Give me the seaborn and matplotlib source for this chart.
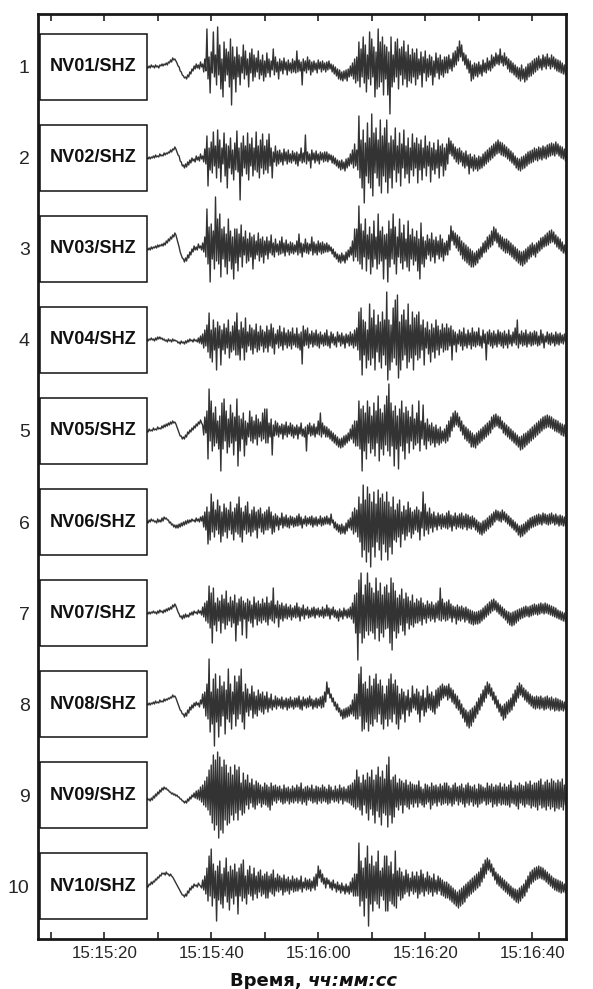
import numpy as np
import pandas as pd
import matplotlib
matplotlib.use("Agg")
import matplotlib.pyplot as plt
import matplotlib.transforms as mtransforms
from matplotlib.patches import Rectangle
import seaborn as sns

# ---------------- data ----------------
stations = ["NV01/SHZ", "NV02/SHZ", "NV03/SHZ", "NV04/SHZ", "NV05/SHZ",
            "NV06/SHZ", "NV07/SHZ", "NV08/SHZ", "NV09/SHZ", "NV10/SHZ"]
trace_rows = [1, 2, 3, 4, 5, 6, 7, 8, 9, 10]
major_seconds = [20, 40, 60, 80, 100]          # seconds after 15:15:00
major_labels = ["15:15:20", "15:15:40", "15:16:00", "15:16:20", "15:16:40"]
minor_seconds = [10, 30, 50, 70, 90]
t_start = 28.0      # first sample, seconds after 15:15:00
dt = 0.2            # sample step, s

# amplitudes (pixels, positive = up)
nv01 = [0,-1, 1,-1, 2,0, 1,-1, 2,0, 1,-1, 2,1, 3,1, 3,2, 4,2, 5,4, 7,5, 9,7, 8,6,
        4,1, 0,-4, -5,-8, -9,-11, -10,-12, -8,-10, -5,-7, -2,-4, 1,-2, 3,-1, 2,-2, 5,0, 3,-5, 8,-4,
        38,-12, 10,-26, 15,-6, 35,-10, 12,-18, 40,-8, 22,-22, 8,-30, 25,-14, 18,-8, 15,-20, 28,-38, 20,-12, 10,-25,
        20,-10, 12,-18, 10,-6, 22,-12, 16,-8, 8,-20, 14,-6, 18,-14, 12,-10, 9,-5, 16,-12, 7,-8, 12,-14, 6,-10,
        14,-6, 8,-10, 6,-3, 18,-8, 10,-5, 5,-12, 8,-4, 6,-7, 9,-3, 5,-8, 7,-4, 4,-6, 8,-5, 6,-6,
        16,-5, 7,-4, 5,-18, 8,-4, 6,-6, 10,-3, 7,-8, 5,-5, 6,-3, 4,-6, 7,-2, 5,-5, 6,-3, 4,-5,
        5,-3, 6,-2, 3,-5, 2,-7, 0,-9, -2,-12, -3,-13, -5,-14, -4,-12, -3,-14, -2,-10, 1,-9, 4,-12, 8,-16,
        10,-14, 25,-20, 18,-10, 30,-16, 22,-25, 12,-12, 35,-18, 28,-10, 20,-30, 15,-22, 38,-20, 25,-15, 30,-28, 22,-12,
        20,-28, 15,-47, 30,-20, 12,-15, 25,-10, 28,-22, 18,-8, 20,-18, 26,-12, 15,-20, 22,-14, 12,-16, 18,-10, 14,-18,
        18,-12, 8,-8, 15,-20, 10,-6, 16,-14, 8,-10, 12,-8, 10,-18, 6,-10, 14,-6, 9,-12, 12,-8, 7,-10, 10,-6,
        10,-6, 12,-2, 8,-4, 14,0, 16,2, 20,6, 26,10, 22,6, 14,2, 12,-2, 8,-6, 6,-14, 2,-12, 4,-9,
        3,-10, 5,-7, 2,-9, 7,-5, 4,-6, 9,-3, 6,-4, 12,-1, 10,1, 14,3, 12,2, 18,4, 11,1, 14,2,
        10,-2, 8,-5, 6,-6, 4,-8, 2,-10, 0,-12, -1,-14, 2,-12, -2,-15, 0,-13, 3,-10, 4,-9, 6,-7, 8,-5,
        9,-3, 11,-1, 8,-3, 12,0, 10,-2, 13,1, 9,-2, 12,0, 10,-2, 8,-4, 7,-5, 6,-6, 4,-7, 2,-8]
nv02 = [0,-1, 1,-1, 1,0, 2,0, 3,1, 2,1, 4,2, 3,2, 5,3, 5,4, 6,5, 8,6, 9,8, 11,9,
        6,3, 2,-3, -4,-8, -7,-10, -6,-9, -4,-7, -2,-5, 0,-3, -1,-4, 2,-2, 1,-3, 4,-1, 2,-4, 9,-6,
        22,-28, 10,-12, 16,-15, 26,-8, 12,-20, 28,-10, 18,-24, 10,-6, 25,-18, 14,-30, 12,-10, 20,-16, 8,-22, 15,-12,
        27,-14, 10,-42, 15,-18, 22,-10, 12,-16, 25,-22, 14,-8, 20,-18, 10,-12, 26,-14, 12,-20, 18,-10, 24,-16, 12,-12,
        18,-15, 24,-8, 10,-20, 6,-4, 12,-8, 7,-6, 8,-4, 5,-7, 9,-3, 6,-6, 8,-4, 4,-5, 7,-3, 5,-6,
        6,-8, 4,-3, 10,-5, 5,-4, 23,-6, 6,-3, 4,-10, 8,-2, 5,-5, 7,-3, 4,-6, 6,-2, 5,-4, 6,-3,
        6,-4, 4,-2, 3,-5, 2,-6, 0,-8, -2,-10, -3,-12, -2,-11, -4,-13, -1,-10, 0,-8, 4,-6, 8,-10, 14,-8,
        8,-12, 42,-20, 18,-30, 28,-45, 15,-18, 35,-25, 20,-30, 44,-38, 25,-15, 30,-20, 18,-28, 38,-35, 22,-18, 30,-24,
        38,-35, 15,-20, 22,-30, 18,-12, 30,-24, 12,-15, 25,-28, 14,-10, 28,-20, 12,-16, 20,-25, 10,-12, 24,-18, 15,-10,
        20,-25, 14,-12, 18,-22, 10,-10, 22,-18, 12,-8, 16,-24, 10,-12, 15,-16, 8,-10, 18,-20, 12,-8, 14,-18, 10,-12,
        14,-6, 20,4, 17,2, 14,-1, 11,-4, 9,-6, 10,-4, 7,-8, 5,-10, 7,-8, 3,-16, 4,-10, 1,-13, 3,-11,
        0,-13, 2,-11, 1,-10, 4,-8, 6,-6, 8,-4, 10,-2, 12,0, 14,2, 16,4, 18,5, 16,3, 15,2, 13,1,
        11,-1, 9,-3, 7,-5, 5,-7, 2,-10, 0,-12, -1,-13, 1,-11, 2,-10, 4,-8, 6,-6, 7,-5, 8,-4, 10,-2,
        9,-3, 11,-1, 10,-2, 12,0, 11,-1, 13,1, 14,2, 15,3, 14,2, 16,4, 14,2, 12,0, 11,-1, 9,-3]
nv03 = [0,-1, 1,-1, 2,0, 2,1, 3,1, 4,2, 4,3, 5,3, 6,4, 8,6, 10,8, 12,10, 14,12, 16,14,
        10,6, 2,-3, -6,-9, -10,-13, -9,-12, -6,-9, -3,-6, 0,-3, 3,-1, 2,-1, 5,1, 3,-1, 6,-3, 12,-8,
        40,-15, 22,-33, 25,-10, 18,-20, 52,-12, 30,-15, 35,-28, 20,-10, 22,-18, 15,-25, 30,-12, 18,-20, 12,-30, 20,-14,
        20,-22, 15,-8, 24,-18, 12,-6, 18,-14, 10,-12, 16,-8, 12,-20, 14,-10, 8,-6, 16,-12, 10,-8, 12,-14, 8,-6,
        12,-10, 8,-4, 14,-6, 6,-8, 10,-3, 5,-6, 8,-5, 12,-4, 6,-7, 9,-3, 5,-6, 7,-4, 6,-5, 4,-3,
        8,-6, 15,-4, 6,-8, 5,-3, 10,-4, 6,-5, 5,-2, 12,-6, 7,-4, 5,-6, 8,-3, 6,-5, 7,-4, 5,-3,
        6,-3, 4,-2, 2,-5, 0,-8, -3,-10, -5,-13, -6,-14, -4,-12, -6,-14, -3,-11, -1,-8, 2,-6, 8,-12, 20,-8,
        20,-12, 43,-15, 25,-20, 18,-8, 30,-22, 14,-10, 22,-25, 15,-18, 28,-10, 12,-20, 35,-15, 18,-12, 22,-30, 14,-10,
        15,-33, 28,-18, 20,-10, 35,-15, 22,-25, 12,-8, 30,-14, 16,-20, 24,-12, 10,-18, 28,-22, 14,-10, 20,-16, 12,-12,
        18,-22, 10,-30, 26,-15, 12,-18, 8,-10, 14,-6, 10,-12, 16,-8, 9,-14, 12,-6, 8,-10, 14,-8, 10,-12, 6,-6,
        8,-6, 14,-1, 23,8, 18,4, 16,1, 14,-2, 12,-6, 8,-10, 6,-12, 4,-14, 2,-16, 0,-18, -2,-18, -4,-16,
        -2,-14, 0,-10, 2,-8, 6,-4, 8,-3, 12,0, 14,2, 18,4, 22,8, 20,6, 16,2, 14,0, 12,-2, 10,-4,
        10,-4, 8,-6, 6,-8, 4,-10, 2,-12, 0,-14, -2,-16, -3,-17, -2,-15, 0,-13, 2,-10, 4,-8, 6,-6, 4,-8,
        6,-4, 8,-2, 11,0, 12,2, 14,3, 16,4, 18,6, 19,7, 17,5, 14,2, 12,0, 10,-2, 7,-4, 4,-5]
nv04 = [1,-1, 1,0, 2,0, 1,-1, 2,0, 3,1, 3,1, 2,0, 1,-1, 0,-2, 1,-1, 0,-2, 1,-1, 0,-1,
        -1,-3, -2,-4, -1,-3, -2,-4, -1,-3, 0,-2, 1,-1, 0,-2, 1,-1, 0,-2, 2,-3, 4,-4, 6,-8, 10,-6,
        15,-12, 27,-18, 10,-22, 20,-10, 12,-30, 18,-8, 14,-25, 10,-10, 16,-14, 12,-8, 20,-18, 8,-12, 14,-10, 18,-15,
        27,-15, 10,-20, 18,-8, 12,-20, 22,-12, 8,-6, 15,-10, 12,-14, 10,-8, 16,-12, 8,-10, 14,-6, 10,-12, 8,-8,
        14,-12, 10,-6, 16,-8, 12,-14, 6,-4, 10,-8, 14,-6, 8,-10, 12,-5, 7,-8, 10,-6, 8,-9, 12,-5, 6,-7,
        12,-8, 6,-10, 8,-24, 14,-6, 10,-5, 12,-8, 6,-4, 9,-7, 7,-5, 10,-6, 6,-8, 8,-4, 5,-6, 7,-5,
        10,-6, 4,-8, 8,-3, 6,-5, 3,-7, 8,-2, 5,-6, 7,-4, 4,-8, 6,-3, 5,-6, 8,-5, 6,-8, 10,-6,
        12,-10, 28,-20, 32,-35, 20,-15, 18,-28, 10,-20, 36,-25, 22,-18, 30,-30, 15,-12, 25,-22, 18,-28, 28,-15, 20,-25,
        48,-40, 20,-30, 15,-22, 32,-18, 40,-25, 45,-38, 18,-30, 25,-20, 30,-15, 20,-28, 36,-22, 15,-18, 28,-30, 22,-15,
        25,-20, 28,-18, 15,-10, 20,-25, 12,-8, 18,-14, 10,-22, 16,-12, 12,-18, 20,-10, 14,-15, 10,-8, 16,-12, 12,-10,
        16,-10, 12,-6, 14,-20, 10,-5, 8,-12, 6,-4, 10,-6, 8,-10, 12,-6, 6,-8, 10,-5, 7,-9, 12,-6, 8,-7,
        8,-5, 12,-6, 4,-8, 10,-3, 6,-20, 8,-4, 10,-6, 7,-8, 9,-5, 6,-7, 10,-4, 8,-6, 7,-8, 9,-5,
        6,-8, 10,-4, 5,-6, 8,-3, 12,-5, 20,-8, 6,-4, 9,-6, 7,-5, 10,-7, 6,-4, 8,-6, 7,-5, 9,-4,
        8,-6, 4,-5, 10,-3, 6,-8, 4,-2, 8,-4, 6,-5, 7,-3, 5,-6, 8,-4, 6,-5, 7,-3, 5,-4, 6,-2]
nv05 = [0,-1, 2,0, 1,0, 3,1, 2,1, 4,2, 3,2, 5,3, 6,4, 7,5, 8,6, 9,7, 10,8, 9,7,
        4,1, -2,-5, -5,-8, -6,-8, -4,-6, -1,-3, 1,-1, 3,1, 5,3, 7,5, 9,7, 11,8, 6,-4, 14,-2,
        20,-28, 42,-10, 30,-20, 18,-15, 24,-12, 10,-18, 15,-40, 28,-18, 32,-10, 20,-22, 12,-16, 26,-12, 18,-24, 14,-10,
        32,-35, 15,-20, 12,-8, 18,-25, 10,-14, 8,-6, 20,-10, 14,-12, 10,-8, 16,-14, 12,-6, 9,-10, 18,-8, 22,-12,
        22,-12, 8,-6, 12,-24, 6,-5, 10,-4, 8,-6, 5,-3, 7,-8, 6,-4, 9,-6, 5,-3, 8,-5, 6,-7, 4,-4,
        6,-8, 4,-3, 8,-5, 2,-6, 4,-20, 6,-3, 8,-5, 5,-4, 7,-6, 4,-3, 10,-4, 18,-6, 8,-3, 5,-6,
        4,-6, 2,-8, 0,-10, -2,-12, -4,-14, -6,-16, -8,-17, -7,-16, -5,-14, -4,-12, -2,-10, 2,-8, 6,-12, 10,-15,
        10,-15, 30,-18, 22,-40, 25,-20, 18,-28, 30,-12, 24,-22, 15,-18, 28,-25, 20,-12, 35,-30, 22,-18, 18,-24, 26,-14,
        35,-20, 47,-25, 28,-15, 20,-35, 25,-18, 15,-38, 22,-15, 30,-20, 18,-28, 24,-12, 20,-22, 14,-10, 26,-18, 12,-14,
        18,-12, 30,-20, 10,-8, 26,-14, 8,-18, 12,-10, 6,-14, 8,-12, 4,-16, 6,-12, 2,-14, 4,-12, 0,-10, 2,-12,
        6,-10, 10,-6, 14,0, 18,4, 20,6, 18,4, 14,0, 10,-4, 6,-8, 4,-10, 2,-12, 0,-16, -2,-16, -4,-17,
        -2,-14, 0,-12, 2,-10, 4,-8, 6,-6, 8,-4, 10,-2, 14,2, 16,4, 17,5, 15,3, 14,2, 10,-2, 8,-4,
        6,-6, 4,-8, 2,-10, 0,-12, -2,-14, -4,-16, -6,-19, -5,-18, -3,-16, -2,-14, 0,-12, 2,-10, 4,-8, 6,-6,
        8,-4, 10,-2, 12,0, 14,2, 15,3, 16,4, 15,3, 14,2, 12,0, 11,-1, 10,-2, 8,-4, 7,-5, 6,-6]
nv06 = [1,-1, 2,0, 3,1, 2,0, 1,-1, 3,0, 2,0, 4,1, 5,3, 4,2, 2,-1, 0,-3, -2,-5, -3,-6,
        -3,-6, -2,-5, -1,-4, 0,-3, 1,-2, 2,-1, 2,0, 3,1, 2,0, 4,1, 3,0, 5,1, 6,-5, 10,-8,
        15,-22, 10,-18, 28,-10, 20,-15, 12,-8, 22,-12, 16,-20, 10,-14, 18,-10, 14,-16, 12,-8, 20,-12, 10,-18, 14,-10,
        18,-12, 25,-15, 14,-20, 10,-8, 16,-12, 20,-10, 8,-14, 12,-10, 15,-8, 10,-16, 12,-6, 14,-10, 8,-12, 10,-8,
        12,-8, 15,-6, 10,-12, 6,-10, 8,-4, 6,-8, 4,-3, 9,-6, 5,-4, 7,-5, 4,-6, 6,-3, 5,-5, 4,-4,
        6,-4, 8,-3, 5,-6, 3,-2, 6,-4, 4,-2, 5,-3, 6,-5, 4,-3, 5,-4, 3,-2, 6,-4, 4,-3, 5,-2,
        6,-2, 4,-3, 8,-1, 2,-6, 0,-8, -2,-10, -3,-12, -2,-11, -4,-12, -1,-9, 2,-6, 4,-8, 10,-12, 14,-10,
        12,-15, 25,-20, 18,-35, 37,-28, 22,-40, 35,-30, 28,-45, 20,-25, 30,-35, 18,-20, 32,-28, 24,-38, 28,-22, 20,-30,
        30,-38, 20,-25, 15,-32, 25,-18, 12,-20, 18,-15, 22,-25, 10,-12, 16,-18, 12,-14, 20,-10, 14,-16, 10,-12, 12,-8,
        15,-10, 12,-18, 10,-6, 30,-14, 18,-8, 10,-12, 14,-6, 8,-10, 10,-5, 6,-8, 9,-4, 7,-7, 8,-5, 6,-6,
        9,-7, 11,-5, 7,-9, 6,-4, 9,-7, 6,-5, 8,-6, 9,-7, 6,-5, 8,-8, 7,-6, 5,-7, 6,-5, 4,-8,
        2,-10, 0,-12, -1,-13, 1,-11, 2,-9, 4,-7, 6,-5, 8,-3, 10,0, 12,2, 11,1, 10,0, 12,2, 10,0,
        8,-2, 6,-4, 4,-6, 2,-8, 0,-10, -2,-13, -4,-15, -3,-14, -2,-12, 0,-10, 2,-8, 4,-6, 5,-5, 6,-4,
        7,-3, 8,-2, 7,-3, 9,-1, 8,-2, 7,-3, 8,-2, 9,-1, 7,-3, 8,-2, 6,-4, 7,-3, 6,-4, 5,-4]
nv07 = [0,-1, 1,-1, 1,0, 2,0, 1,-1, 2,0, 3,1, 2,0, 3,1, 4,2, 5,3, 6,4, 8,6, 9,7,
        4,1, -1,-4, -3,-6, -2,-5, -1,-4, -2,-4, 0,-2, 1,-2, 2,0, 1,-1, 3,0, 2,-2, 6,-4, 10,-8,
        12,-10, 27,-15, 20,-30, 25,-12, 10,-18, 15,-8, 12,-20, 18,-10, 14,-16, 22,-12, 10,-8, 16,-14, 12,-10, 18,-28,
        10,-12, 14,-8, 16,-22, 12,-6, 10,-25, 14,-8, 12,-10, 8,-14, 16,-6, 10,-12, 12,-8, 9,-10, 14,-7, 10,-9,
        16,-12, 10,-6, 12,-8, 25,-10, 8,-5, 12,-14, 8,-6, 10,-8, 7,-5, 9,-6, 6,-4, 8,-7, 5,-4, 7,-5,
        10,-4, 6,-8, 5,-3, 8,-6, 4,-2, 6,-5, 3,-4, 5,-3, 6,-5, 4,-2, 5,-4, 3,-3, 6,-5, 4,-3,
        8,-3, 5,-6, 4,-2, 6,-4, 3,-5, 2,-8, 4,-4, 2,-6, 5,-3, 3,-5, 4,-4, 6,-6, 10,-10, 18,-20,
        20,-47, 33,-20, 40,-30, 18,-25, 28,-18, 40,-22, 30,-18, 25,-20, 20,-26, 35,-15, 22,-28, 30,-20, 18,-24, 26,-16,
        28,-15, 20,-30, 35,-37, 30,-18, 22,-25, 15,-20, 18,-12, 24,-18, 14,-22, 20,-10, 16,-16, 12,-12, 18,-14, 10,-10,
        14,-10, 12,-8, 15,-12, 10,-6, 8,-10, 12,-5, 9,-8, 11,-6, 8,-9, 10,-5, 12,-7, 25,-8, 14,-6, 10,-8,
        11,-7, 13,-5, 9,-9, 7,-5, 6,-11, 8,-7, 6,-8, 7,-6, 5,-9, 6,-7, 4,-10, 3,-11, 2,-12, 1,-11,
        1,-11, 2,-10, 3,-8, 5,-6, 7,-4, 9,-2, 11,0, 13,2, 14,3, 12,1, 10,-1, 8,-3, 6,-5, 4,-7,
        2,-10, 1,-12, 0,-13, 1,-12, 2,-10, 3,-8, 4,-6, 5,-5, 6,-4, 7,-3, 6,-4, 7,-3, 8,-2, 9,-1,
        8,-2, 9,-1, 10,0, 9,-1, 10,0, 9,-1, 8,-2, 7,-3, 6,-4, 5,-5, 3,-6, 2,-7, 1,-8, 0,-9]
nv08 = [0,-1, 1,-1, 1,0, 2,0, 3,1, 2,1, 4,2, 3,2, 5,3, 5,4, 6,5, 7,6, 9,7, 8,6,
        3,0, -3,-6, -7,-10, -10,-13, -9,-12, -6,-9, -3,-6, -1,-4, 1,-2, 2,-1, 1,-3, 4,0, 10,-4, 12,-12,
        20,-15, 45,-28, 12,-20, 25,-42, 30,-18, 15,-33, 28,-22, 18,-12, 22,-30, 14,-15, 35,-18, 20,-25, 12,-10, 28,-22,
        22,-15, 28,-10, 35,-18, 12,-25, 20,-8, 15,-12, 10,-6, 18,-14, 12,-10, 8,-12, 14,-6, 10,-8, 12,-10, 8,-5,
        12,-8, 6,-4, 10,-6, 4,-3, 8,-5, 6,-2, 5,-4, 7,-5, 4,-3, 6,-6, 5,-4, 7,-3, 4,-5, 6,-3,
        6,-3, 8,-5, 4,-6, 7,-2, 5,-4, 6,-3, 8,-2, 5,-5, 4,-3, 6,-4, 5,-2, 7,-4, 8,-3, 12,2,
        22,10, 16,6, 10,2, 6,-2, 2,-6, 0,-8, -4,-12, -6,-15, -5,-14, -4,-13, -3,-12, -1,-10, 4,-12, 10,-15,
        10,-15, 30,-12, 37,-27, 20,-25, 22,-18, 15,-27, 28,-20, 18,-22, 25,-15, 30,-18, 20,-10, 24,-20, 18,-25, 10,-15,
        18,-22, 25,-15, 30,-18, 20,-10, 24,-20, 18,-25, 10,-15, 15,-10, 12,-18, 8,-6, 14,-12, 6,-8, 18,-4, 10,-6,
        15,-10, 12,-18, 8,-6, 14,-12, 6,-8, 18,-4, 10,-6, 12,-8, 8,-10, 14,-4, 16,-2, 18,4, 20,6, 18,8,
        18,4, 20,6, 16,2, 14,0, 10,-4, 8,-6, 4,-10, 0,-14, -4,-18, -6,-22, -8,-24, -6,-22, -4,-18, -2,-14,
        2,-10, 6,-6, 10,-2, 14,2, 18,6, 22,10, 20,8, 16,4, 12,0, 8,-4, 4,-8, 0,-12, -2,-16, 0,-14,
        2,-10, 4,-8, 6,-6, 10,-2, 14,2, 18,6, 21,9, 19,7, 16,4, 14,2, 12,0, 10,-2, 8,-4, 7,-5,
        8,-4, 7,-5, 8,-4, 6,-6, 7,-5, 8,-4, 6,-6, 7,-5, 5,-7, 6,-6, 5,-7, 4,-6, 3,-7, 2,-6]
nv09 = [-3,-5, -4,-6, -3,-5, -1,-3, 1,-1, 3,1, 5,3, 7,5, 8,6, 7,5, 5,3, 3,1, 2,0, 1,-1,
        0,-2, -2,-4, -4,-6, -6,-8, -6,-8, -4,-6, -2,-4, 0,-2, 2,-3, 4,-4, 5,-5, 8,-7, 10,-10, 14,-12,
        18,-15, 25,-20, 30,-28, 40,-35, 35,-30, 43,-43, 38,-35, 28,-38, 35,-25, 30,-30, 22,-28, 28,-20, 20,-25, 30,-18,
        25,-25, 28,-15, 12,-20, 22,-18, 15,-10, 20,-14, 12,-8, 16,-12, 10,-14, 14,-10, 12,-8, 10,-12, 8,-9, 12,-10,
        10,-12, 8,-15, 12,-10, 9,-6, 10,-8, 8,-5, 9,-7, 6,-9, 10,-8, 7,-6, 8,-9, 6,-7, 9,-8, 7,-6,
        10,-8, 8,-6, 12,-9, 6,-7, 8,-10, 9,-5, 7,-6, 10,-8, 6,-7, 9,-9, 8,-6, 7,-8, 10,-6, 8,-7,
        6,-9, 10,-8, 8,-5, 5,-7, 9,-6, 6,-8, 10,-5, 7,-9, 8,-6, 6,-7, 9,-8, 10,-10, 12,-12, 15,-14,
        25,-12, 18,-15, 12,-20, 20,-10, 15,-18, 22,-25, 18,-14, 25,-20, 15,-28, 20,-16, 28,-22, 18,-30, 24,-18, 16,-20,
        30,-32, 38,-20, 15,-28, 18,-22, 20,-12, 12,-15, 16,-10, 14,-18, 12,-10, 15,-12, 10,-14, 13,-9, 11,-12, 10,-8,
        10,-12, 14,-8, 8,-10, 6,-12, 11,-9, 10,-7, 8,-14, 12,-10, 9,-8, 10,-11, 8,-7, 11,-10, 9,-9, 12,-8,
        12,-10, 9,-8, 7,-11, 10,-9, 12,-6, 8,-10, 9,-7, 11,-9, 7,-12, 10,-8, 12,-10, 9,-7, 8,-11, 10,-9,
        6,-12, 11,-9, 10,-8, 8,-6, 7,-10, 12,-9, 9,-7, 11,-12, 8,-9, 10,-11, 9,-8, 12,-10, 8,-9, 11,-10,
        8,-10, 10,-12, 14,-8, 7,-9, 10,-11, 9,-14, 12,-8, 10,-10, 9,-12, 13,-9, 11,-10, 14,-13, 10,-11, 12,-12,
        12,-15, 14,-10, 16,-13, 10,-12, 13,-15, 15,-11, 12,-14, 16,-12, 14,-16, 12,-13, 15,-14, 13,-12, 16,-15, 10,-10]
nv10 = [0,-1, 2,1, 4,2, 5,4, 7,6, 9,8, 11,10, 13,12, 13,11, 14,12, 12,10, 12,10, 9,7, 5,3,
        1,-1, -3,-5, -7,-9, -9,-11, -8,-10, -5,-7, -2,-4, 0,-2, 2,0, 1,-1, 3,1, 0,-2, 6,-4, 10,-8,
        18,-15, 30,-10, 37,-20, 22,-12, 15,-35, 20,-14, 25,-18, 12,-22, 18,-10, 28,-16, 14,-24, 20,-12, 16,-18, 22,-10,
        14,-28, 18,-10, 22,-15, 26,-12, 10,-18, 16,-8, 20,-10, 12,-14, 18,-8, 10,-12, 14,-6, 16,-10, 10,-8, 12,-12,
        14,-12, 10,-6, 12,-8, 16,-10, 8,-5, 12,-6, 10,-4, 8,-9, 11,-6, 7,-5, 9,-8, 6,-4, 10,-6, 7,-5,
        8,-5, 6,-3, 10,-6, 4,-2, 8,-4, 6,-3, 7,-5, 5,-2, 9,-4, 12,0, 20,8, 16,4, 12,2, 8,-2,
        8,2, 6,-2, 4,-4, 6,-2, 2,-6, 4,-4, 1,-7, 3,-5, 0,-8, 2,-6, 0,-8, 4,-6, 8,-10, 12,-10,
        12,-10, 43,-20, 25,-15, 18,-30, 28,-12, 40,-40, 22,-18, 30,-25, 20,-15, 24,-18, 35,-22, 15,-10, 18,-14, 30,-25,
        30,-25, 20,-15, 24,-18, 12,-20, 35,-22, 15,-10, 18,-14, 14,-12, 10,-8, 16,-6, 12,-10, 8,-5, 14,-8, 10,-6,
        14,-12, 10,-8, 16,-6, 12,-10, 8,-5, 14,-8, 10,-6, 8,-10, 12,-6, 6,-8, 10,-5, 8,-9, 6,-10, 4,-12,
        4,-12, 2,-14, 0,-16, -2,-18, -4,-20, -6,-22, -4,-20, -2,-18, 0,-16, 2,-12, 4,-10, 6,-8, 8,-6, 10,-4,
        12,-2, 14,0, 18,4, 22,8, 26,12, 28,16, 26,14, 22,10, 18,6, 14,2, 12,0, 10,-2, 8,-4, 6,-6,
        4,-8, 2,-10, 0,-12, -2,-14, -3,-16, -4,-17, -2,-15, 0,-12, 2,-10, 6,-6, 10,-2, 14,2, 16,4, 18,6,
        19,7, 20,8, 19,7, 18,6, 16,4, 14,2, 12,0, 10,-2, 8,-4, 7,-5, 6,-6, 5,-7, 4,-6, 2,-7]

traces = [nv01, nv02, nv03, nv04, nv05, nv06, nv07, nv08, nv09, nv10]

# ---------------- styling constants ----------------
PX_PER_ROW = 91.0   # vertical display gain: pixels of amplitude per trace spacing
TRACE_COLOR = "#0f0f0f"

frames = []
for name, row, vals in zip(stations, trace_rows, traces):
    v = np.asarray(vals, dtype=float)
    t = t_start + dt * np.arange(len(v))
    frames.append(pd.DataFrame({"t": t, "y": row - v / PX_PER_ROW, "station": name}))
df = pd.concat(frames, ignore_index=True)

sns.set_style("ticks")
plt.rcParams["font.family"] = ["Liberation Sans", "DejaVu Sans"]

W, H = 593, 989
fig = plt.figure(figsize=(W / 100, H / 100), dpi=100)
ax = fig.add_axes([38 / W, 1 - 939 / H, 528 / W, 925 / H])

sns.lineplot(data=df, x="t", y="y", hue="station", palette=[TRACE_COLOR] * len(stations),
             estimator=None, sort=False, legend=False, linewidth=1.0, alpha=0.85, ax=ax)

ax.set_xlim(7.63, 106.3)
ax.set_ylim(10.582, 0.418)

ax.set_xticks(major_seconds)
ax.set_xticklabels(major_labels, fontsize=12.2)
ax.set_xticks(minor_seconds, minor=True)
ax.tick_params(axis="x", which="both", direction="in", top=True, bottom=True,
               length=5, width=1.2, color="#222222", pad=5)
ax.set_yticks(trace_rows)
ax.set_yticklabels([str(r) for r in trace_rows], fontsize=14)
ax.tick_params(axis="y", length=0, pad=6)
ax.set_xlabel("")
ax.set_ylabel("")
for s in ax.spines.values():
    s.set_linewidth(2.0)
    s.set_color("#1a1a1a")
    s.set_visible(True)

# station label boxes
trans = mtransforms.blended_transform_factory(ax.transAxes, ax.transData)
for name, row in zip(stations, trace_rows):
    ax.add_patch(Rectangle((0.0038, row - 0.366), 0.2026, 0.732, transform=trans,
                           facecolor="white", edgecolor="#111111", linewidth=1.1, zorder=4))
    ax.text(0.104, row, name, transform=trans, ha="center", va="center",
            fontsize=13.1, fontweight="bold", color="#111111", zorder=5)

# axis title: "Время, " bold + "чч:мм:сс" bold italic
t1 = fig.text(230 / W, 1 - 986 / H, "Время, ", ha="left", va="baseline",
              fontsize=13, fontweight="bold", family=["DejaVu Sans"], color="#111111")
fig.canvas.draw()
bb = t1.get_window_extent()
fig.text(bb.x1 / W, 1 - 986 / H, "чч:мм:сс", ha="left", va="baseline",
         fontsize=13, fontweight="bold", style="italic", family=["DejaVu Sans"], color="#111111")

fig.savefig("out.png", dpi=100)
